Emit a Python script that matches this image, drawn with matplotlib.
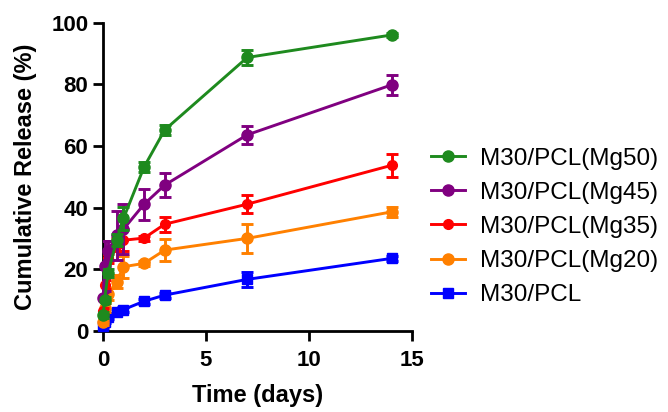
import numpy as np
import matplotlib
matplotlib.use("Agg")
import matplotlib.pyplot as plt
from matplotlib.lines import Line2D

plt.rcParams['font.family'] = ['Liberation Sans', 'DejaVu Sans']

# time points (days)
days = [0.02, 0.083, 0.25, 0.67, 1, 2, 3, 7, 14]

labels = ['M30/PCL(Mg50)', 'M30/PCL(Mg45)', 'M30/PCL(Mg35)', 'M30/PCL(Mg20)', 'M30/PCL']
colors = ['#1e8a1e', '#800080', '#ff0000', '#ff8000', '#0000ff']
markers = ['o', 'o', 'o', 'o', 's']

mg50 = [5.1, 10.0, 18.8, 29.4, 36.5, 53.2, 65.2, 88.7, 96.0]
mg50_err = [1.0, 1.0, 1.2, 2.0, 3.8, 1.5, 1.5, 2.4, 0.5]
mg45 = [10.7, 21.0, 26.0, 31.0, 33.0, 41.1, 47.3, 63.6, 79.8]
mg45_err = [2.0, 8.0, 3.0, 8.0, 8.0, 5.0, 3.8, 2.9, 3.2]
mg35 = [6.5, 15.0, 23.5, 28.0, 29.4, 30.1, 34.6, 41.1, 53.7]
mg35_err = [1.0, 1.5, 1.5, 2.0, 3.5, 0.8, 2.4, 3.0, 3.8]
mg20 = [3.0, 7.5, 12.0, 16.0, 20.8, 21.9, 26.2, 30.0, 38.6]
mg20_err = [1.0, 1.5, 2.0, 2.0, 3.5, 0.8, 3.5, 4.8, 1.6]
pcl = [1.5, 3.0, 4.5, 6.2, 6.9, 9.6, 11.6, 16.7, 23.5]
pcl_err = [0.5, 0.5, 0.8, 0.8, 0.8, 0.8, 0.8, 2.4, 0.8]

series = [mg50, mg45, mg35, mg20, pcl]
errs = [mg50_err, mg45_err, mg35_err, mg20_err, pcl_err]

fig = plt.figure(figsize=(6.68, 4.12), dpi=100)
ax = fig.add_axes([0.154, 0.197, 0.463, 0.748])

sizes = [8, 8, 7, 8, 7]
handles = []
# draw blue first so green ends up on top
for i in range(4, -1, -1):
    eb = ax.errorbar(days, series[i], yerr=errs[i], color=colors[i], marker=markers[i],
                     markersize=sizes[i], linewidth=2.1, elinewidth=2.1, capsize=4,
                     capthick=2.1, zorder=3 + (4 - i))
    for art in eb.lines[:1]:
        art.set_clip_on(False)
for i in range(5):
    handles.append(Line2D([], [], color=colors[i], marker=markers[i],
                          markersize=sizes[i], linewidth=2.1))

ax.set_xlim(0, 15)
ax.set_ylim(0, 100)
ax.set_xticks([0, 5, 10, 15])
ax.set_yticks([0, 20, 40, 60, 80, 100])
ax.spines['top'].set_visible(False)
ax.spines['right'].set_visible(False)
for s in ['left', 'bottom']:
    ax.spines[s].set_linewidth(2)
ax.tick_params(width=2, length=7, labelsize=16)
ax.tick_params(axis='x', pad=7)
for t in ax.get_xticklabels() + ax.get_yticklabels():
    t.set_fontweight('bold')
ax.set_xlabel('Time (days)', fontsize=17, fontweight='bold', labelpad=9)
ax.set_ylabel('Cumulative Release (%)', fontsize=17, fontweight='bold', labelpad=10)

ax.legend(handles, labels, loc='center left', bbox_to_anchor=(0.99, 0.337),
          frameon=False, fontsize=17.5, handlelength=1.4, handletextpad=0.6,
          labelspacing=0.5)

fig.savefig('out.png', dpi=100)
